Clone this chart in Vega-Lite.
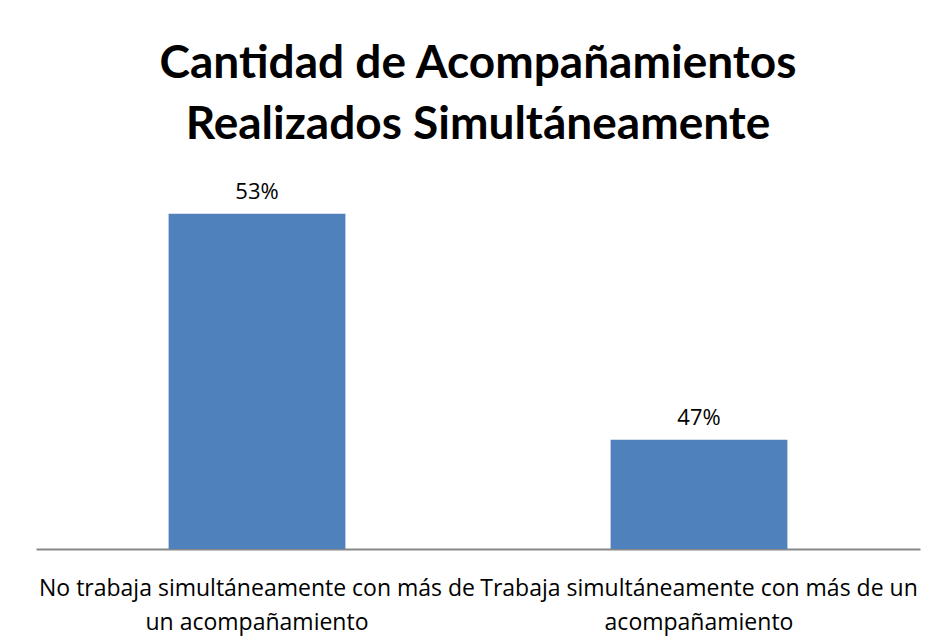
{
  "$schema": "https://vega.github.io/schema/vega-lite/v6.json",
  "autosize": "none",
  "width": 884,
  "height": 373,
  "padding": {"left": 36, "top": 176, "right": 17, "bottom": 95},
  "background": "white",
  "title": {
    "text": ["Cantidad de Acompañamientos", "Realizados Simultáneamente"],
    "font": "Lato",
    "fontSize": 46,
    "fontWeight": "bold",
    "color": "black",
    "anchor": "middle",
    "frame": "group",
    "lineHeight": 61,
    "offset": 27
  },
  "data": {
    "values": [
      {"cat": "No trabaja simultáneamente con más de|un acompañamiento", "pct": 53, "label": "53%"},
      {"cat": "Trabaja simultáneamente con más de un|acompañamiento", "pct": 47, "label": "47%"}
    ]
  },
  "encoding": {
    "x": {
      "field": "cat",
      "type": "nominal",
      "sort": null,
      "scale": {"paddingInner": 0.6, "paddingOuter": 0.3},
      "axis": {
        "title": null,
        "labelAngle": 0,
        "labelExpr": "split(datum.label, '|')",
        "labelFont": "Open Sans",
        "labelFontSize": 23,
        "labelColor": "black",
        "labelLineHeight": 34,
        "labelPadding": 28,
        "labelLimit": 600,
        "labelOverlap": false,
        "ticks": false,
        "domainColor": "#888888",
        "domainWidth": 2
      }
    },
    "y": {
      "field": "pct",
      "type": "quantitative",
      "scale": {"domain": [44.1, 54], "zero": false, "nice": false},
      "axis": null
    }
  },
  "layer": [
    {"mark": {"type": "bar", "color": "#4F81BD", "clip": true}},
    {
      "mark": {"type": "text", "dy": -22, "font": "Open Sans", "fontSize": 22, "color": "black"},
      "encoding": {"text": {"field": "label"}}
    }
  ],
  "config": {"view": {"stroke": null}}
}
